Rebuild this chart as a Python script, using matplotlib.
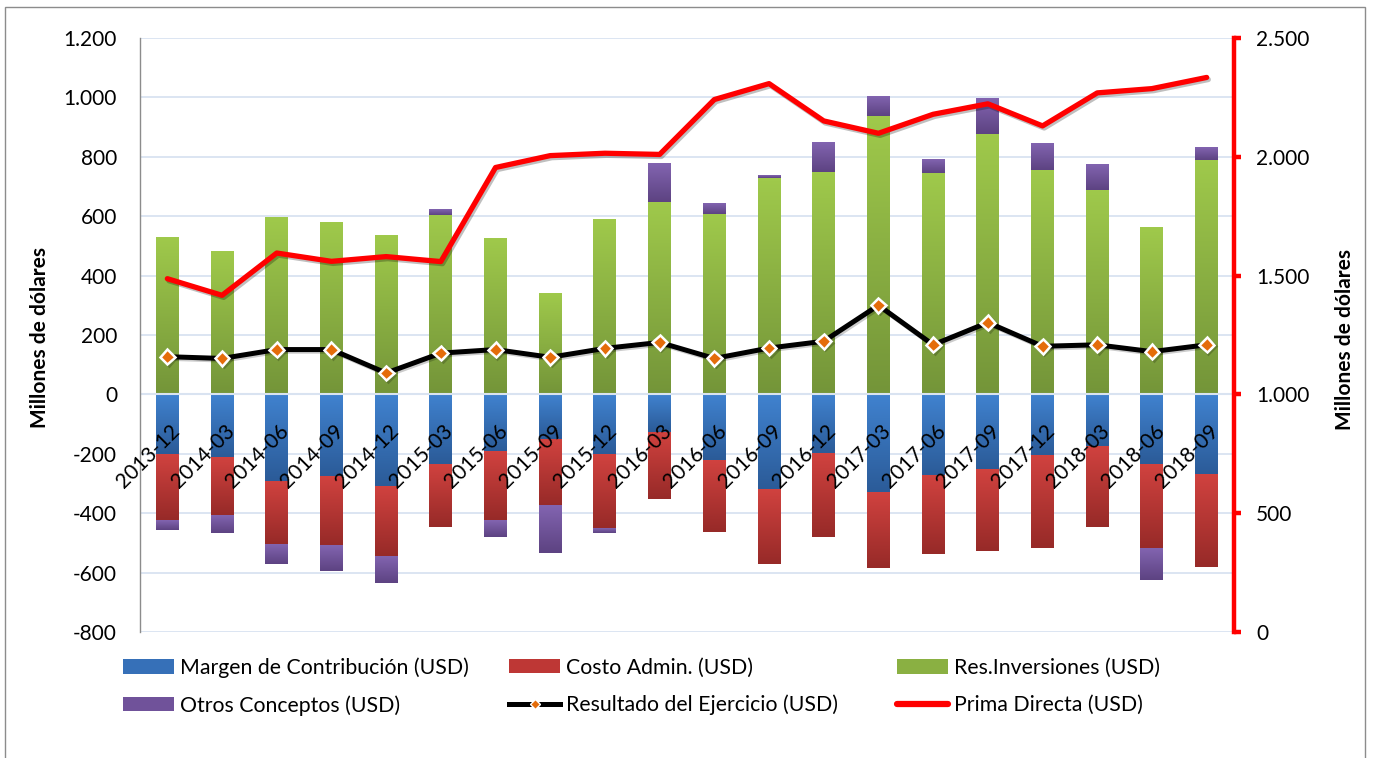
import numpy as np
import matplotlib
matplotlib.use("Agg")
import matplotlib.pyplot as plt
import matplotlib.patheffects as pe
from matplotlib.colors import LinearSegmentedColormap
from matplotlib.patches import Patch, Rectangle
from matplotlib.lines import Line2D
from matplotlib.ticker import FuncFormatter, MultipleLocator
from matplotlib.transforms import ScaledTranslation

# ---------------------------------------------------------
# Data (millones de dólares)
# ---------------------------------------------------------
dates = ["2013-12", "2014-03", "2014-06", "2014-09", "2014-12",
         "2015-03", "2015-06", "2015-09", "2015-12", "2016-03",
         "2016-06", "2016-09", "2016-12", "2017-03", "2017-06",
         "2017-09", "2017-12", "2018-03", "2018-06", "2018-09"]

margen = np.array([-202, -215, -293, -279, -312, -236, -195, -151, -200, -127,
                   -220, -319, -197, -331, -275, -252, -204, -174, -234, -271])
costo = np.array([-222, -192, -212, -229, -233, -211, -229, -224, -252, -225,
                  -242, -252, -282, -254, -264, -274, -312, -271, -285, -311])
res_inv = np.array([527, 481, 593, 579, 535, 604, 525, 338, 586, 649,
                    608, 727, 749, 938, 744, 878, 757, 687, 560, 788])
otros = np.array([-31, -60, -67, -87, -90, 19, -56, -159, -15, 129,
                  36, 7, 99, 64, 47, 119, 88, 87, -106, 43])
resultado = np.array([127, 121, 151, 151, 72, 139, 151, 125, 155, 175,
                      121, 156, 179, 300, 167, 242, 162, 167, 144, 167])
prima = np.array([1487, 1417, 1595, 1560, 1580, 1559, 1955, 2005, 2015, 2010,
                  2241, 2308, 2151, 2099, 2179, 2223, 2130, 2269, 2287, 2334])

# ---------------------------------------------------------
# Style
# ---------------------------------------------------------
plt.rcParams["font.family"] = ["Lato", "DejaVu Sans"]

FW, FH = 1374, 758
GRID = "#D9E3F1"
ORANGE = "#E46C0A"
BLUE = ("#4082CF", "#2B5B98")
RED = ("#D0423F", "#972A28")
GREEN = ("#9FC94B", "#749539")
PURPLE = ("#8264B0", "#5D4382")


def thousands(v, pos):
    return f"{v:,.0f}".replace(",", ".")


def gradient_fill(ax, bars, colors):
    """Replace the flat fill of each bar by a vertical gradient (light top, dark bottom)."""
    cmap = LinearSegmentedColormap.from_list("g", [colors[1], colors[0]])
    grad = np.linspace(0, 1, 64).reshape(-1, 1)
    for rect in bars:
        h = rect.get_height()
        if h == 0:
            continue
        x0, y0, w = rect.get_x(), rect.get_y(), rect.get_width()
        ax.imshow(grad, extent=(x0, x0 + w, min(y0, y0 + h), max(y0, y0 + h)),
                  origin="lower", cmap=cmap, aspect="auto", zorder=1,
                  interpolation="bilinear")
        rect.set_facecolor("none")


fig = plt.figure(figsize=(FW / 100, FH / 100), dpi=100)
ax = fig.add_axes([140 / FW, 1 - 632 / FH, (1234 - 140) / FW, (632 - 38) / FH])

x = np.arange(len(dates))
W = 0.42

neg_base = margen + costo
otros_bottom = np.where(otros > 0, res_inv, neg_base)

b_m = ax.bar(x, margen, W, linewidth=0)
b_c = ax.bar(x, costo, W, bottom=margen, linewidth=0)
b_r = ax.bar(x, res_inv, W, linewidth=0)
b_o = ax.bar(x, otros, W, bottom=otros_bottom, linewidth=0)

for bars, cols in [(b_m, BLUE), (b_c, RED), (b_r, GREEN), (b_o, PURPLE)]:
    gradient_fill(ax, bars, cols)

ax.axhline(0, color=GRID, lw=1.5, zorder=2)

ax.plot(x, resultado, color="black", lw=3.6, zorder=4,
        marker="D", markersize=7.5, markerfacecolor=ORANGE,
        markeredgecolor="white", markeredgewidth=1.8,
        path_effects=[pe.SimpleLineShadow(offset=(1.2, -1.2), alpha=0.2), pe.Normal()])

ax.set_xlim(-0.5, len(dates) - 0.5)
ax.set_ylim(-800, 1200)
ax.yaxis.set_major_locator(MultipleLocator(200))
ax.yaxis.set_major_formatter(FuncFormatter(thousands))
ax.yaxis.grid(True, color=GRID, lw=1.3)
ax.set_axisbelow(True)

for s in ["top", "right", "bottom"]:
    ax.spines[s].set_visible(False)
ax.spines["left"].set_color("#8C8C8C")
ax.spines["left"].set_linewidth(1.0)
ax.spines["bottom"].set_position(("data", 0))

ax.tick_params(axis="y", length=0, pad=16.5, labelsize=15)
ax.set_xticks(x)
ax.set_xticklabels(dates, rotation=45, ha="right", rotation_mode="anchor")
ax.tick_params(axis="x", length=0, pad=19, labelsize=15)
shift = ScaledTranslation(0.02, 0, fig.dpi_scale_trans)
for lab in ax.get_xticklabels():
    lab.set_transform(lab.get_transform() + shift)
ax.xaxis.set_zorder(5)

# right axis: Prima Directa
ax2 = ax.twinx()
ax2.plot(x, prima, color="#FF0000", lw=3.8, solid_capstyle="round", zorder=3,
         path_effects=[pe.SimpleLineShadow(offset=(1.2, -1.5), alpha=0.25), pe.Normal()])
ax2.set_ylim(0, 2500)
ax2.yaxis.set_major_locator(MultipleLocator(500))
ax2.yaxis.set_major_formatter(FuncFormatter(thousands))
for s in ["top", "left", "bottom"]:
    ax2.spines[s].set_visible(False)
ax2.spines["right"].set_color("#FF0000")
ax2.spines["right"].set_linewidth(3.2)
ax2.tick_params(axis="y", colors="#FF0000", labelcolor="black", width=3.2,
                length=5, pad=11, labelsize=15)

fig.text(40 / FW, 1 - 338 / FH, "Millones de dólares", rotation=90,
         ha="center", va="center", fontsize=15, fontweight="bold")
fig.text(1345 / FW, 1 - 340 / FH, "Millones de dólares", rotation=90,
         ha="center", va="center", fontsize=15, fontweight="bold")

# legend, three columns like the spreadsheet layout
h_margen = Patch(facecolor="#3670B8", label="Margen de Contribución (USD)")
h_costo = Patch(facecolor="#BE3735", label="Costo Admin. (USD)")
h_res = Patch(facecolor="#8AB042", label="Res.Inversiones (USD)")
h_otros = Patch(facecolor="#70529A", label="Otros Conceptos (USD)")
h_result = Line2D([0], [0], color="black", lw=3.6, marker="D", markersize=5.5,
                  markerfacecolor=ORANGE, markeredgecolor="white", markeredgewidth=1,
                  label="Resultado del Ejercicio (USD)")
h_prima = Line2D([0], [0], color="#FF0000", lw=4.5, solid_capstyle="round",
                 label="Prima Directa (USD)")

leg_y = 1 - 686.5 / FH
for handles, xpx in [([h_margen, h_otros], 123), ([h_costo, h_result], 509),
                     ([h_res, h_prima], 897)]:
    fig.legend(handles=handles, loc="center left", bbox_to_anchor=(xpx / FW, leg_y),
               frameon=False, fontsize=15.3, handlelength=2.4, handleheight=0.65,
               handletextpad=0.3, borderpad=0, borderaxespad=0, labelspacing=0.8)

# outer chart border
fig.add_artist(Rectangle((5 / FW, -0.02), (1365 - 5) / FW, 1 - 7 / FH + 0.02,
                         transform=fig.transFigure, fill=False,
                         edgecolor="#8C8C8C", lw=1.0))

fig.savefig("out.png", dpi=100)
